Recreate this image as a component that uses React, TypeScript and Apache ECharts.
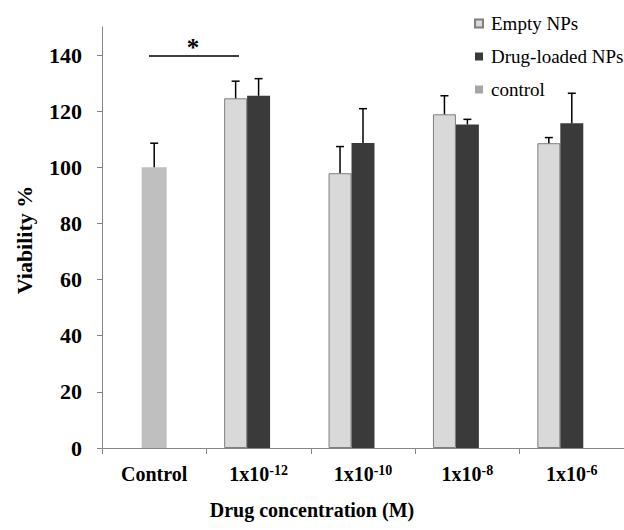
import React, { useEffect, useRef } from "react";
import * as echarts from "echarts";

const categories = ["Control", "1x10^-12", "1x10^-10", "1x10^-8", "1x10^-6"];
const emptyVals = [null, 124.6, 97.9, 118.9, 108.6];
const emptyErr = [null, 6.1, 9.5, 6.6, 2.0];
const drugVals = [null, 125.5, 108.7, 115.3, 115.7];
const drugErr = [null, 6.1, 12.2, 1.8, 10.7];
const controlVals = [100, null, null, null, null];
const controlErr = [8.6, null, null, null, null];
const yTicks = [0, 20, 40, 60, 80, 100, 120, 140];

const FONT = "'Liberation Serif', 'Times New Roman', serif";

export default function App() {
  const ref = useRef<HTMLDivElement>(null);
  useEffect(() => {
    if (!ref.current) return;
    const chart = echarts.init(ref.current, null, { renderer: "svg" });

    const errData: any[] = [];
    emptyVals.forEach((v, i) => {
      if (v != null && emptyErr[i] != null) errData.push([i, v, emptyErr[i], -1]);
    });
    drugVals.forEach((v, i) => {
      if (v != null && drugErr[i] != null) errData.push([i, v, drugErr[i], 0]);
    });
    controlVals.forEach((v, i) => {
      if (v != null && controlErr[i] != null) errData.push([i, v, controlErr[i], 0]);
    });

    const option: any = {
      animation: false,
      grid: { left: 102, right: -12, top: 27, bottom: 82 },
      legend: {
        orient: "vertical",
        left: 474,
        top: 14,
        padding: 0,
        icon: "rect",
        itemWidth: 8,
        itemHeight: 8,
        itemGap: 14,
        textStyle: { fontFamily: FONT, fontSize: 19, color: "#000", lineHeight: 18, padding: [0, 0, 0, 3] },
        data: [
          { name: "Empty NPs" },
          { name: "Drug-loaded NPs" },
          { name: "control", itemStyle: { color: "#a6a6a6" } },
        ],
      },
      xAxis: [
        {
          type: "category",
          data: categories,
          boundaryGap: true,
          axisLine: { lineStyle: { color: "#868686", width: 1 } },
          axisTick: { show: true, length: 6, alignWithLabel: false, lineStyle: { color: "#868686" } },
          axisLabel: {
            margin: 15,
            interval: 0,
            formatter: (v: string) => {
              const parts = v.split("^");
              if (parts.length === 1) return "{b|" + parts[0] + "}";
              return "{b|" + parts[0] + "}{s|" + parts[1] + "}";
            },
            rich: {
              b: { fontFamily: FONT, fontSize: 20, fontWeight: "bold", color: "#000", lineHeight: 22 },
              s: { fontFamily: FONT, fontSize: 14, fontWeight: "bold", color: "#000", lineHeight: 12, verticalAlign: "top" },
            },
          },
          splitLine: { show: false },
        },
        {
          type: "category",
          data: categories,
          show: false,
          position: "bottom",
        },
      ],
      yAxis: {
        type: "value",
        min: 0,
        max: 150,
        interval: 10,
        axisLine: { show: true, lineStyle: { color: "#868686", width: 1 } },
        axisTick: { show: true, length: 5, lineStyle: { color: "#868686" }, customValues: yTicks },
        axisLabel: {
          margin: 20,
          fontFamily: FONT,
          fontSize: 22,
          fontWeight: "bold",
          color: "#000",
          customValues: yTicks,
        },
        splitLine: { show: false },
      },
      series: [
        {
          name: "Empty NPs",
          type: "bar",
          xAxisIndex: 0,
          data: emptyVals,
          barWidth: "22%",
          barGap: "0%",
          itemStyle: { color: "#d9d9d9", borderColor: "#7f7f7f", borderWidth: 1 },
        },
        {
          name: "Drug-loaded NPs",
          type: "bar",
          xAxisIndex: 0,
          data: drugVals,
          barWidth: "22%",
          barGap: "0%",
          itemStyle: { color: "#3a3a3a" },
        },
        {
          name: "slot",
          type: "bar",
          xAxisIndex: 0,
          data: [],
          barWidth: "22%",
          barGap: "0%",
          itemStyle: { color: "transparent" },
        },
        {
          name: "control",
          type: "bar",
          xAxisIndex: 1,
          data: controlVals,
          barWidth: 25,
          itemStyle: { color: "#bfbfbf" },
        },
        {
          name: "errors",
          type: "custom",
          xAxisIndex: 0,
          data: errData,
          z: 10,
          renderItem: (params: any, api: any) => {
            const bw = api.size([1, 0])[0] * 0.22;
            const base = api.coord([api.value(0), api.value(1)]);
            const top = api.coord([api.value(0), api.value(1) + api.value(2)]);
            const x = base[0] + api.value(3) * bw;
            const style = { stroke: "#000", lineWidth: 1.5 };
            return {
              type: "group",
              children: [
                { type: "line", shape: { x1: x, y1: base[1], x2: x, y2: top[1] }, style },
                { type: "line", shape: { x1: x - 4, y1: top[1], x2: x + 4, y2: top[1] }, style },
              ],
            };
          },
        },
      ],
      graphic: [
        {
          type: "line",
          shape: { x1: 149, y1: 56, x2: 239, y2: 56 },
          style: { stroke: "#000", lineWidth: 1.5 },
        },
        {
          type: "text",
          x: 193,
          y: 47,
          style: {
            text: "*",
            fontFamily: FONT,
            fontSize: 25,
            fontWeight: "bold",
            fill: "#000",
            align: "center",
            verticalAlign: "middle",
          },
        },
        {
          type: "text",
          x: 24,
          y: 240,
          rotation: Math.PI / 2,
          style: {
            text: "Viability %",
            fontFamily: FONT,
            fontSize: 22,
            fontWeight: "bold",
            fill: "#000",
            align: "center",
            verticalAlign: "middle",
          },
        },
        {
          type: "text",
          x: 312,
          y: 510,
          style: {
            text: "Drug concentration (M)",
            fontFamily: FONT,
            fontSize: 20,
            fontWeight: "bold",
            fill: "#000",
            align: "center",
            verticalAlign: "middle",
          },
        },
      ],
    };
    chart.setOption(option);
    return () => chart.dispose();
  }, []);
  return (
    <div
      ref={ref}
      style={{ position: "fixed", left: 0, top: 0, width: 624, height: 530, background: "#fff" }}
    />
  );
}
